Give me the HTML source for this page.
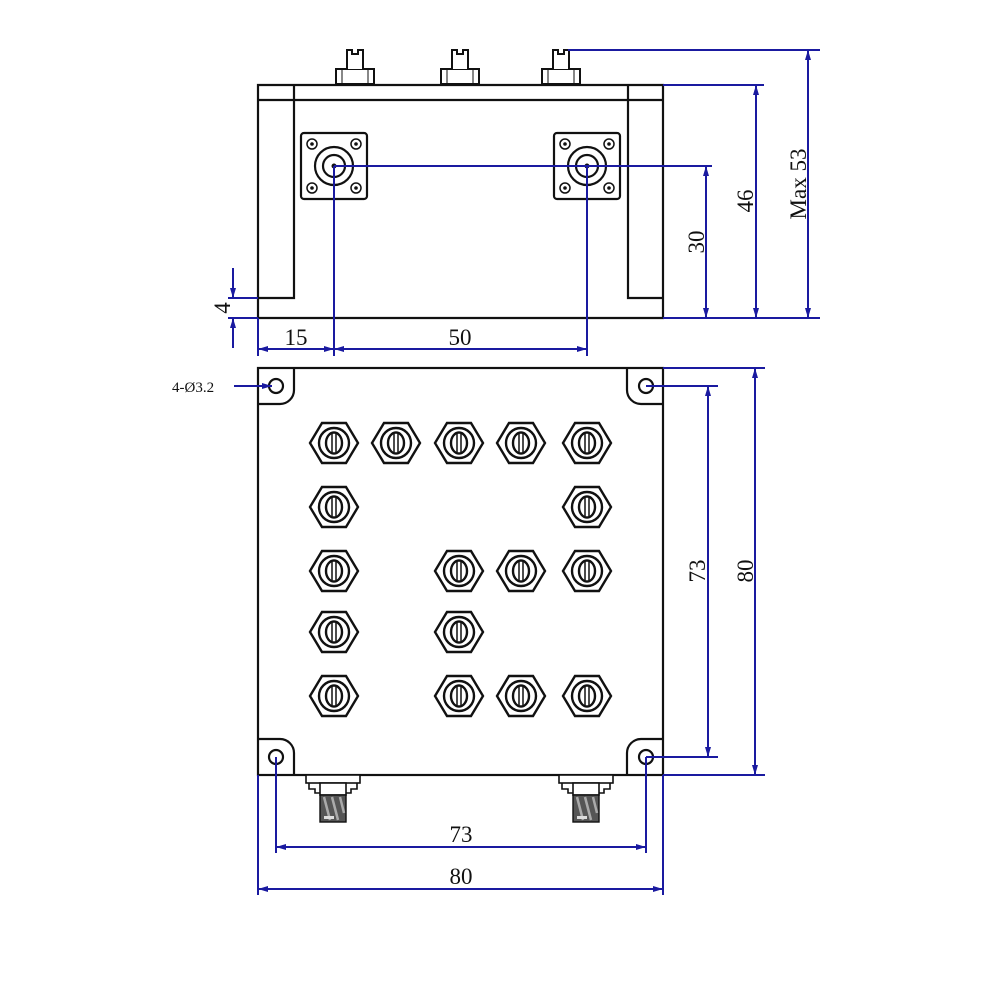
<!DOCTYPE html>
<html><head><meta charset="utf-8"><style>
html,body{margin:0;padding:0;background:#fff}
svg{display:block}
text{font-family:"Liberation Serif",serif;fill:#111}
</style></head><body>
<svg width="1000" height="1000" viewBox="0 0 1000 1000" xmlns="http://www.w3.org/2000/svg">
<defs>
<marker id="a" viewBox="0 0 10 6" refX="10" refY="3" markerWidth="14" markerHeight="6" orient="auto-start-reverse" markerUnits="userSpaceOnUse"><path d="M0,0 L10,3 L0,6 Z" fill="#1a1aa0"/></marker>
<g id="nut">
<polygon points="-24,0 -12,-20 12,-20 24,0 12,20 -12,20" fill="#fff" stroke="#111" stroke-width="2.4"/>
<circle r="15" fill="none" stroke="#111" stroke-width="2.4"/>
<ellipse rx="8" ry="10.5" fill="none" stroke="#111" stroke-width="2.4"/>
<line x1="-2" y1="-10" x2="-2" y2="10" stroke="#111" stroke-width="1.5"/>
<line x1="2" y1="-10" x2="2" y2="10" stroke="#111" stroke-width="1.5"/>
</g>
<g id="flange">
<rect x="-33" y="-33" width="66" height="66" rx="3" fill="#fff" stroke="#111" stroke-width="2.2"/>
<circle cx="-22" cy="-22" r="5" fill="none" stroke="#111" stroke-width="1.5"/><circle cx="-22" cy="-22" r="1.8" fill="#111"/>
<circle cx="22" cy="-22" r="5" fill="none" stroke="#111" stroke-width="1.5"/><circle cx="22" cy="-22" r="1.8" fill="#111"/>
<circle cx="-22" cy="22" r="5" fill="none" stroke="#111" stroke-width="1.5"/><circle cx="-22" cy="22" r="1.8" fill="#111"/>
<circle cx="22" cy="22" r="5" fill="none" stroke="#111" stroke-width="1.5"/><circle cx="22" cy="22" r="1.8" fill="#111"/>
<circle r="19" fill="none" stroke="#111" stroke-width="2.2"/>
<circle r="11" fill="none" stroke="#111" stroke-width="2.2"/>
<circle r="2.5" fill="#111"/>
</g>
<g id="screw">
<rect x="-19" y="-15" width="38" height="15" fill="#fff" stroke="#111" stroke-width="2"/>
<line x1="-13" y1="-15" x2="-13" y2="0" stroke="#111" stroke-width="1"/>
<line x1="13" y1="-15" x2="13" y2="0" stroke="#111" stroke-width="1"/>
<path d="M-8,-15 V-34 H-3 V-30 H3 V-34 H8 V-15" fill="#fff" stroke="#111" stroke-width="2"/>
</g>
<g id="sma">
<rect x="-27" y="0" width="54" height="8" fill="#fff" stroke="#111" stroke-width="1.6"/>
<path d="M-24,8 V14 H-18 V18 H18 V14 H24 V8" fill="none" stroke="#111" stroke-width="1.6"/>
<rect x="-13" y="8" width="26" height="12" fill="#fff" stroke="#111" stroke-width="1.6"/>
<rect x="-13" y="20" width="26" height="27" fill="#555" stroke="#111" stroke-width="1.4"/>
<path d="M-9,22 L-3,45 M-1,22 L5,45 M7,22 L11,38" stroke="#aaa" stroke-width="2.5"/>
<rect x="-9" y="41" width="10" height="3" fill="#ddd"/>
</g>
</defs>

<!-- TOP VIEW -->
<g fill="none" stroke="#111" stroke-width="2.2">
<path d="M258,85 H663 V318 H258 Z"/>
<line x1="258" y1="100" x2="663" y2="100"/>
<path d="M294,85 V298 H258"/>
<path d="M628,85 V298 H663"/>
</g>
<use href="#screw" x="355" y="84"/>
<use href="#screw" x="460" y="84"/>
<use href="#screw" x="561" y="84"/>
<use href="#flange" x="334" y="166"/>
<use href="#flange" x="587" y="166"/>

<g stroke="#1a1aa0" stroke-width="2" fill="none">
<line x1="334" y1="166" x2="712" y2="166"/>
<line x1="334" y1="166" x2="334" y2="356"/>
<line x1="587" y1="166" x2="587" y2="356"/>
<line x1="258" y1="318" x2="258" y2="356"/>
<line x1="663" y1="85" x2="764" y2="85"/>
<line x1="663" y1="318" x2="820" y2="318"/>
<line x1="568" y1="50" x2="820" y2="50"/>
<line x1="706" y1="166" x2="706" y2="318" marker-start="url(#a)" marker-end="url(#a)"/>
<line x1="756" y1="85" x2="756" y2="318" marker-start="url(#a)" marker-end="url(#a)"/>
<line x1="808" y1="50" x2="808" y2="318" marker-start="url(#a)" marker-end="url(#a)"/>
<line x1="258" y1="349" x2="334" y2="349" marker-start="url(#a)" marker-end="url(#a)"/>
<line x1="334" y1="349" x2="587" y2="349" marker-start="url(#a)" marker-end="url(#a)"/>
<line x1="228" y1="298" x2="258" y2="298"/>
<line x1="228" y1="318" x2="258" y2="318"/>
<line x1="233" y1="268" x2="233" y2="298" marker-end="url(#a)"/>
<line x1="233" y1="348" x2="233" y2="318" marker-end="url(#a)"/>
</g>
<text x="296" y="345" font-size="23" text-anchor="middle">15</text>
<text x="460" y="345" font-size="23" text-anchor="middle">50</text>
<text font-size="23" text-anchor="middle" transform="translate(704,242) rotate(-90)">30</text>
<text font-size="23" text-anchor="middle" transform="translate(753,201) rotate(-90)">46</text>
<text font-size="23" text-anchor="middle" transform="translate(806,184) rotate(-90)">Max 53</text>
<text font-size="23" text-anchor="middle" transform="translate(230,308) rotate(-90)">4</text>

<!-- BOTTOM VIEW -->
<g fill="none" stroke="#111" stroke-width="2.2">
<rect x="258" y="368" width="405" height="407"/>
<path d="M294,368 V390 A14,14 0 0 1 280,404 H258"/>
<path d="M627,368 V390 A14,14 0 0 0 641,404 H663"/>
<path d="M294,775 V753 A14,14 0 0 0 280,739 H258"/>
<path d="M627,775 V753 A14,14 0 0 1 641,739 H663"/>
<circle cx="276" cy="386" r="7"/>
<circle cx="646" cy="386" r="7"/>
<circle cx="276" cy="757" r="7"/>
<circle cx="646" cy="757" r="7"/>
</g>
<use href="#nut" x="334" y="443"/><use href="#nut" x="396" y="443"/><use href="#nut" x="459" y="443"/><use href="#nut" x="521" y="443"/><use href="#nut" x="587" y="443"/>
<use href="#nut" x="334" y="507"/><use href="#nut" x="587" y="507"/>
<use href="#nut" x="334" y="571"/><use href="#nut" x="459" y="571"/><use href="#nut" x="521" y="571"/><use href="#nut" x="587" y="571"/>
<use href="#nut" x="334" y="632"/><use href="#nut" x="459" y="632"/>
<use href="#nut" x="334" y="696"/><use href="#nut" x="459" y="696"/><use href="#nut" x="521" y="696"/><use href="#nut" x="587" y="696"/>
<use href="#sma" x="333" y="775"/>
<use href="#sma" x="586" y="775"/>

<g stroke="#1a1aa0" stroke-width="2" fill="none">
<line x1="646" y1="386" x2="718" y2="386"/>
<line x1="646" y1="757" x2="718" y2="757"/>
<line x1="663" y1="368" x2="765" y2="368"/>
<line x1="663" y1="775" x2="765" y2="775"/>
<line x1="708" y1="386" x2="708" y2="757" marker-start="url(#a)" marker-end="url(#a)"/>
<line x1="755" y1="368" x2="755" y2="775" marker-start="url(#a)" marker-end="url(#a)"/>
<line x1="276" y1="757" x2="276" y2="853"/>
<line x1="646" y1="757" x2="646" y2="853"/>
<line x1="258" y1="775" x2="258" y2="895"/>
<line x1="663" y1="775" x2="663" y2="895"/>
<line x1="276" y1="847" x2="646" y2="847" marker-start="url(#a)" marker-end="url(#a)"/>
<line x1="258" y1="889" x2="663" y2="889" marker-start="url(#a)" marker-end="url(#a)"/>
<line x1="234" y1="386" x2="272" y2="386" marker-end="url(#a)"/>
</g>
<text x="461" y="842" font-size="23" text-anchor="middle">73</text>
<text x="461" y="884" font-size="23" text-anchor="middle">80</text>
<text font-size="23" text-anchor="middle" transform="translate(705,571) rotate(-90)">73</text>
<text font-size="23" text-anchor="middle" transform="translate(753,571) rotate(-90)">80</text>
<text x="172" y="392" font-size="15">4-Ø3.2</text>
</svg>
</body></html>
